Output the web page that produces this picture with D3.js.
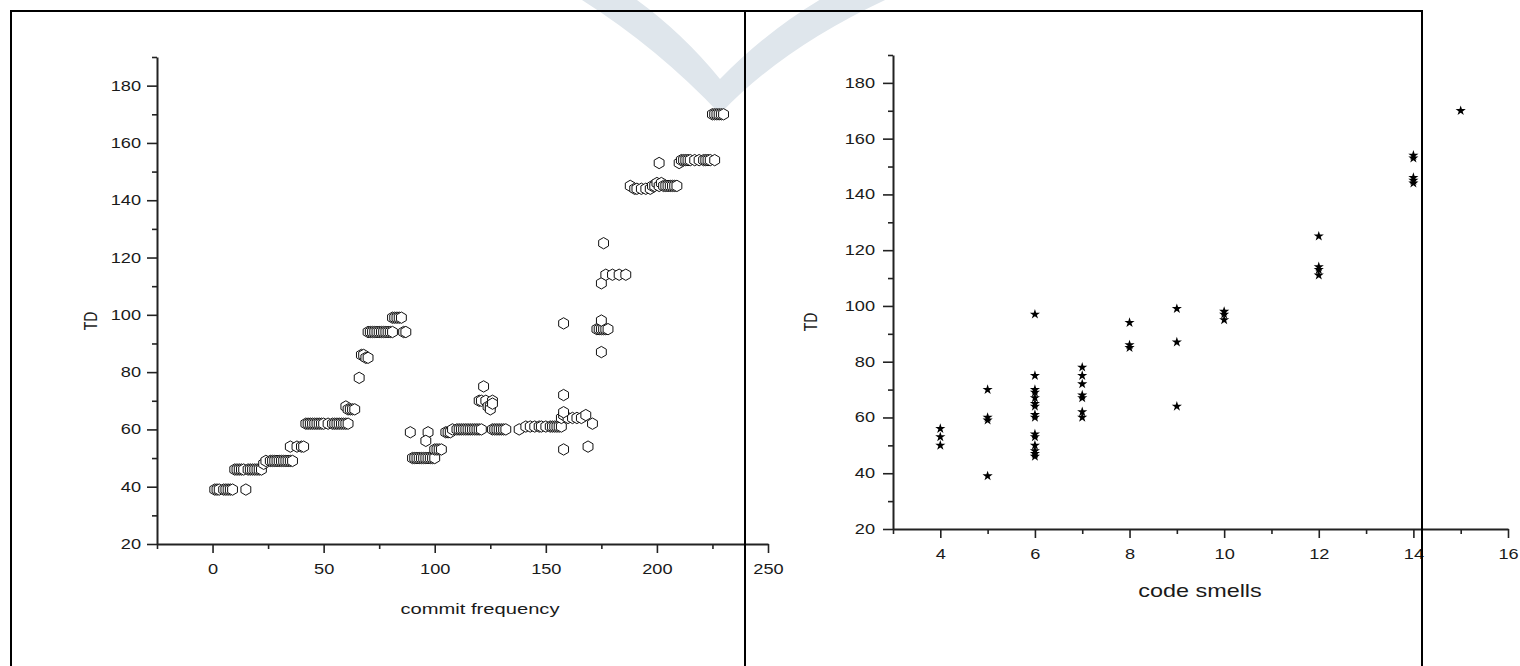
<!DOCTYPE html>
<html>
<head>
<meta charset="utf-8">
<script src="https://cdn.jsdelivr.net/npm/d3@7"></script>
<style>
html, body { margin: 0; padding: 0; background: #fff; }
svg { display: block; }
text { font-family: "Liberation Sans", Arial, sans-serif; fill: #1a1a1a; }
</style>
</head>
<body>
<svg id="chart" width="1520" height="666"></svg>
<script>

/*
 * DATA
 */

// left panel: commit frequency vs TD
var commitFreq = [
  1, 2, 3, 5, 6, 7, 8, 9, 15,
  10, 11, 12, 13, 14, 16, 17, 18, 19, 20, 21, 22,
  23, 24, 26, 27, 28, 29, 30, 31, 32, 33, 34, 35, 36,
  35, 38, 40, 41,
  42, 43, 44, 45, 46, 47, 48, 49, 50, 52, 54, 55, 56, 57, 58, 59, 60, 61,
  60, 61, 62, 63, 64, 66, 67, 68, 69, 70,
  70, 71, 72, 73, 74, 75, 76, 77, 78, 79, 80, 81, 86, 87,
  81, 82, 83, 84, 85,
  89, 97, 96,
  90, 91, 92, 93, 94, 95, 96, 97, 98, 99, 100,
  100, 101, 102, 103,
  105, 106, 107, 108, 110, 111, 112, 113, 114, 115, 116, 117, 118, 119, 120, 121,
  120, 121, 123, 126, 122, 124, 125, 125, 126,
  126, 127, 128, 129, 130, 131, 132,
  138, 141, 143, 145, 147, 148, 150, 152, 153, 154, 155, 156, 157,
  157, 158, 160, 162, 164, 166, 168, 158,
  171, 169, 158, 158, 158,
  173, 174, 175, 176, 177, 178, 175, 175, 175, 176,
  177, 180, 183, 186,
  188, 190, 191, 193, 195, 197, 198, 199, 200, 201, 202, 203, 204, 205, 206, 207, 208, 209,
  201, 210, 211, 212, 213, 214, 215, 217, 219, 221, 222, 223, 224, 226,
  225, 226, 227, 228, 229, 230
];
var commitTD = [
  39, 39, 39, 39, 39, 39, 39, 39, 39,
  46, 46, 46, 46, 46, 46, 46, 46, 46, 46, 46, 46,
  48, 49, 49, 49, 49, 49, 49, 49, 49, 49, 49, 49, 49,
  54, 54, 54, 54,
  62, 62, 62, 62, 62, 62, 62, 62, 62, 62, 62, 62, 62, 62, 62, 62, 62, 62,
  68, 67, 67, 67, 67, 78, 86, 86, 85, 85,
  94, 94, 94, 94, 94, 94, 94, 94, 94, 94, 94, 94, 94, 94,
  99, 99, 99, 99, 99,
  59, 59, 56,
  50, 50, 50, 50, 50, 50, 50, 50, 50, 50, 50,
  53, 53, 53, 53,
  59, 59, 59, 60, 60, 60, 60, 60, 60, 60, 60, 60, 60, 60, 60, 60,
  70, 70, 70, 70, 75, 68, 68, 67, 69,
  60, 60, 60, 60, 60, 60, 60,
  60, 61, 61, 61, 61, 61, 61, 61, 61, 61, 61, 61, 61,
  64, 65, 64, 64, 64, 64, 65, 66,
  62, 54, 53, 72, 97,
  95, 95, 95, 95, 95, 95, 98, 87, 111, 125,
  114, 114, 114, 114,
  145, 144, 144, 144, 144, 144, 145, 145, 146, 145, 146, 145, 145, 145, 145, 145, 145, 145,
  153, 153, 154, 154, 154, 154, 154, 154, 154, 154, 154, 154, 154, 154,
  170, 170, 170, 170, 170, 170
];

// right panel: code smells vs TD
var smellCount = [
  4, 4, 4,
  5, 5, 5, 5,
  6, 6, 6, 6, 6, 6, 6, 6, 6, 6, 6, 6, 6, 6, 6,
  7, 7, 7, 7, 7, 7, 7,
  8, 8, 8,
  9, 9, 9,
  10, 10, 10,
  12, 12, 12, 12,
  14, 14, 14, 14, 14,
  15
];
var smellTD = [
  56, 53, 50,
  70, 60, 59, 39,
  97, 75, 70, 69, 67, 65, 64, 61, 60, 54, 53, 50, 48, 47, 46,
  78, 75, 72, 68, 67, 62, 60,
  94, 86, 85,
  99, 87, 64,
  98, 97, 95,
  125, 114, 113, 111,
  154, 153, 146, 145, 144,
  170
];

// ticks
var commitMajorTicks = [0, 50, 100, 150, 200, 250];
var commitMinorTicks = [-25, 25, 75, 125, 175, 225];
var smellMajorTicks = [4, 6, 8, 10, 12, 14, 16];
var smellMinorTicks = [3, 5, 7, 9, 11, 13, 15];
var tdMajorTicks = [20, 40, 60, 80, 100, 120, 140, 160, 180];
var tdMinorTicks = [30, 50, 70, 90, 110, 130, 150, 170, 190];

/*
 * CONSTANTS
 */

var SX = 1.3;   // the figure is stretched horizontally
var axisColor = '#222';

var svg = d3.select('#chart');

// watermark chevron behind everything
svg.append('path')
  .attr('d', 'M574,-5 Q655,45 720,114 Q785,45 896,-5 L828,-5 Q770,28 720,79 Q680,30 630,-5 Z')
  .attr('fill', '#dfe6ec');

/*
 * PANELS
 */

var hexagon = {
  draw: function (ctx, size) {
    var r = Math.sqrt(size / (1.5 * Math.sqrt(3)));
    for (var i = 0; i < 6; i++) {
      var a = Math.PI / 3 * i - Math.PI / 2;
      if (i === 0) ctx.moveTo(r * Math.cos(a), r * Math.sin(a));
      else ctx.lineTo(r * Math.cos(a), r * Math.sin(a));
    }
    ctx.closePath();
  }
};

function drawAxes(g, x, y, p) {
  var y0 = y.range()[0], x0 = x.range()[0];

  // minor ticks first, no labels
  g.append('g').attr('transform', 'translate(0,' + y0 + ')')
    .call(d3.axisBottom(x).tickValues(p.xMinor).tickSize(5).tickSizeOuter(0).tickFormat(''))
    .call(function (s) { s.select('.domain').remove(); });
  g.append('g').attr('transform', 'translate(' + x0 + ',0)')
    .call(d3.axisLeft(y).tickValues(tdMinorTicks).tickSize(5).tickSizeOuter(0).tickFormat(''))
    .call(function (s) { s.select('.domain').remove(); });

  var xa = g.append('g').attr('transform', 'translate(0,' + y0 + ')')
    .call(d3.axisBottom(x).tickValues(p.xMajor).tickSize(9).tickPadding(11).tickSizeOuter(0));
  xa.selectAll('text').attr('transform', 'scale(' + SX + ',1)');

  var ya = g.append('g').attr('transform', 'translate(' + x0 + ',0)')
    .call(d3.axisLeft(y).tickValues(tdMajorTicks).tickSize(10).tickSizeOuter(0));
  ya.selectAll('text').attr('x', -p.yLabelGap / SX).attr('transform', 'scale(' + SX + ',1)');

  g.selectAll('g.tick line').attr('stroke-width', 1.6);
  g.selectAll('.domain').attr('stroke-width', 2);
  g.selectAll('g').attr('color', axisColor).attr('font-size', 14)
    .attr('font-family', '"Liberation Sans", Arial, sans-serif');
}

function drawTitles(g, p) {
  g.append('text')
    .attr('transform', 'translate(' + p.yTitle[0] + ',' + p.yTitle[1] + ') scale(' + SX + ',1) rotate(-90)')
    .attr('text-anchor', 'middle')
    .attr('dominant-baseline', 'central')
    .style('font-size', '14px')
    .text('TD');
  g.append('text')
    .attr('transform', 'translate(' + p.xTitle[0] + ',' + p.xTitle[1] + ') scale(' + SX + ',1)')
    .attr('text-anchor', 'middle')
    .attr('dominant-baseline', 'central')
    .style('font-size', p.xTitleSize + 'px')
    .text(p.xLabel);
}

// left: commit frequency
var left = svg.append('g');
var xCommit = d3.scaleLinear().domain([-25, 250]).range([157, 768]);
var yCommit = d3.scaleLinear().domain([20, 190]).range([544, 57]);
drawAxes(left, xCommit, yCommit, {
  xMajor: commitMajorTicks, xMinor: commitMinorTicks, yLabelGap: 16
});
drawTitles(left, {
  yTitle: [90, 321], xTitle: [480, 609], xTitleSize: 15.5, xLabel: 'commit frequency'
});

left.append('g').selectAll('path')
  .data(d3.range(commitFreq.length))
  .enter().append('path')
  .attr('d', d3.symbol().type(hexagon).size(84))
  .attr('transform', function (i) {
    return 'translate(' + xCommit(commitFreq[i]) + ',' + yCommit(commitTD[i]) + ')';
  })
  .attr('fill', '#fff')
  .attr('stroke', '#111')
  .attr('stroke-width', 1);

// right: code smells
var right = svg.append('g');
var xSmell = d3.scaleLinear().domain([3, 16]).range([893, 1508]);
var ySmell = d3.scaleLinear().domain([20, 190]).range([529, 55]);
drawAxes(right, xSmell, ySmell, {
  xMajor: smellMajorTicks, xMinor: smellMinorTicks, yLabelGap: 18
});
drawTitles(right, {
  yTitle: [810, 322], xTitle: [1200, 591], xTitleSize: 18, xLabel: 'code smells'
});

right.append('g').selectAll('path')
  .data(d3.range(smellCount.length))
  .enter().append('path')
  .attr('d', d3.symbol().type(d3.symbolStar).size(32))
  .attr('transform', function (i) {
    return 'translate(' + xSmell(smellCount[i]) + ',' + ySmell(smellTD[i]) + ')';
  })
  .attr('fill', '#000');

/*
 * FRAME (table borders drawn on top)
 */

var frame = svg.append('g').attr('stroke', '#000').attr('stroke-width', 2);
frame.append('line').attr('x1', 10).attr('x2', 1423).attr('y1', 11).attr('y2', 11);
[11, 745, 1422].forEach(function (fx) {
  frame.append('line').attr('x1', fx).attr('x2', fx).attr('y1', 10).attr('y2', 680);
});

</script>
</body>
</html>
